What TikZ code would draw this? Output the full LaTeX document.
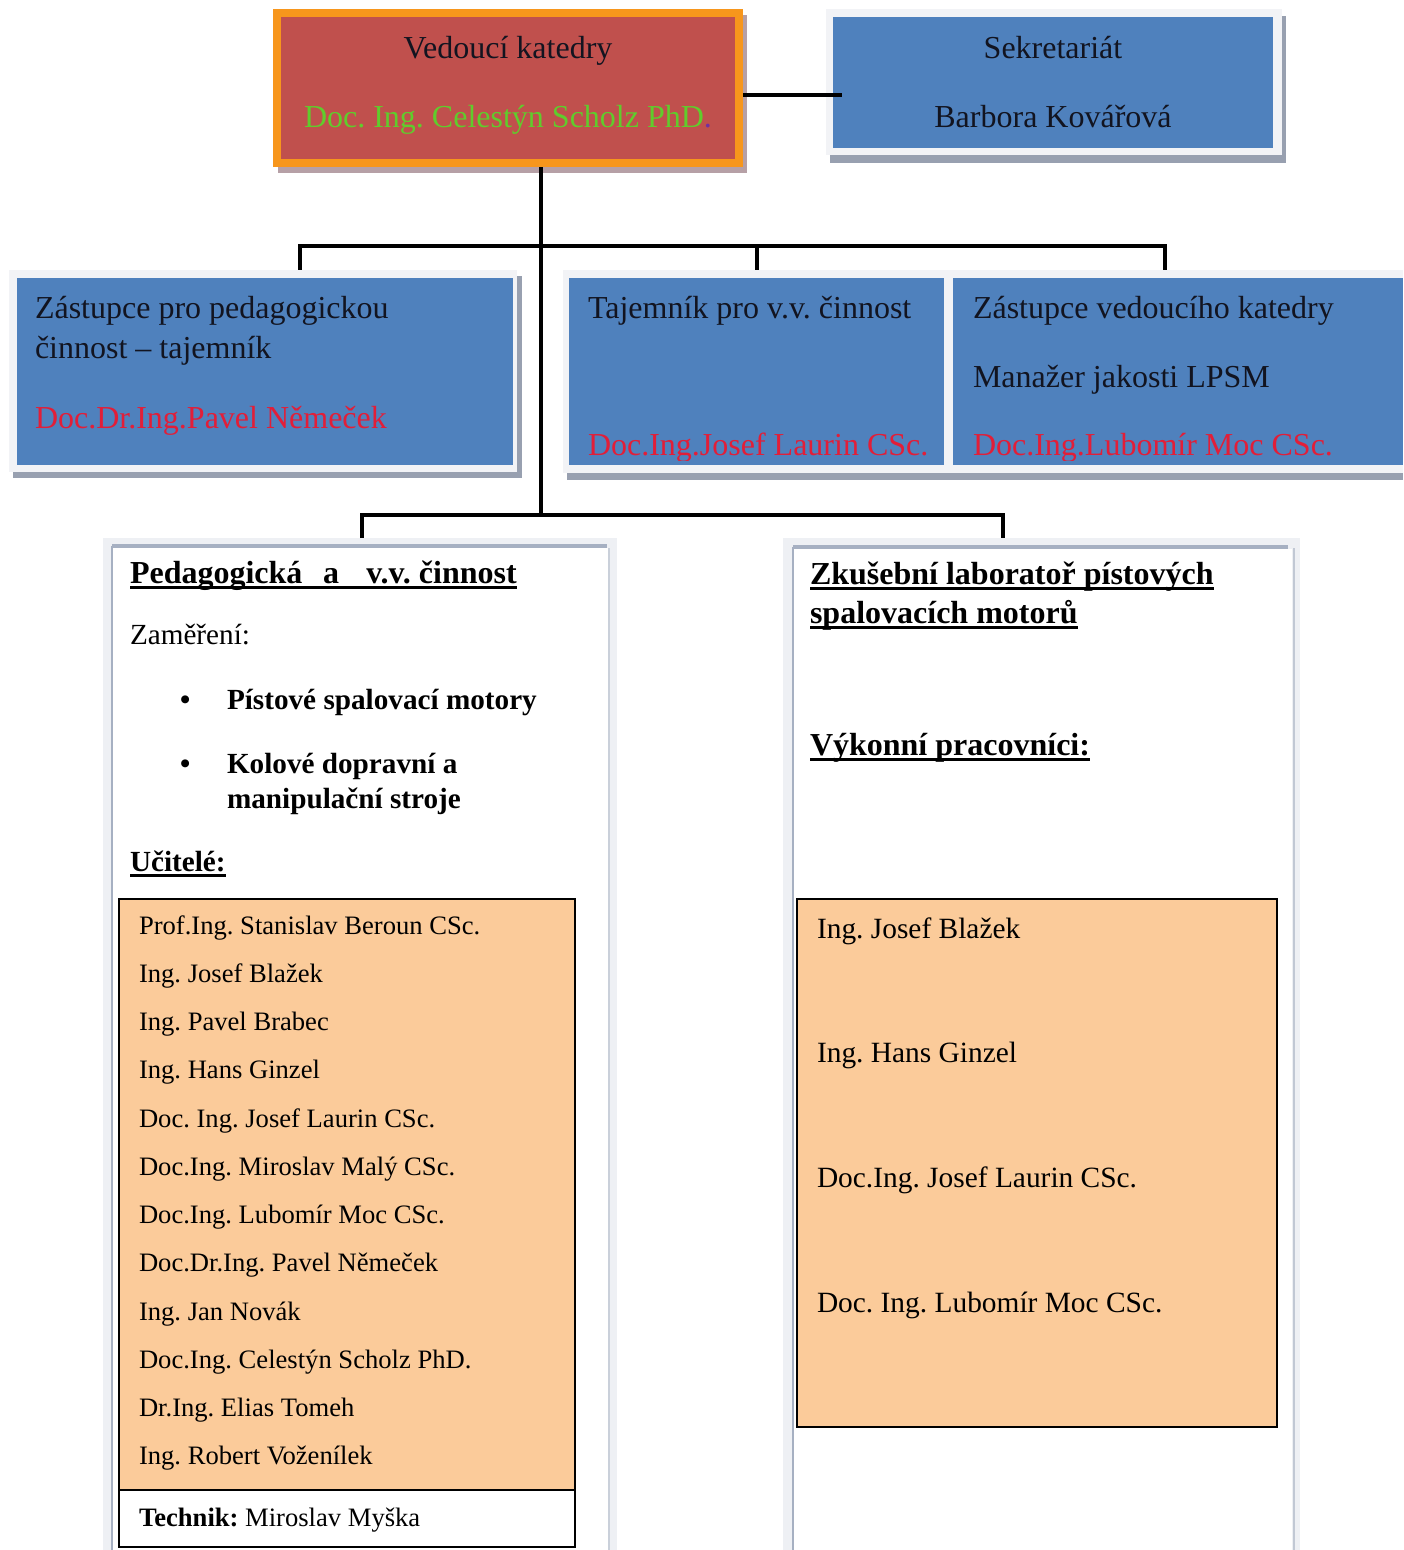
\documentclass[tikz,border=0pt]{standalone}
\usepackage{fontspec}
\setmainfont{Liberation Serif}
\usetikzlibrary{fit}
\frenchspacing

\definecolor{headfill}{RGB}{192,80,77}
\definecolor{headrim}{RGB}{247,150,28}
\definecolor{headshade}{RGB}{182,160,166}
\definecolor{boxblue}{RGB}{79,129,189}
\definecolor{rimwhite}{RGB}{242,243,246}
\definecolor{shadegrey}{RGB}{152,160,176}
\definecolor{namegreen}{RGB}{96,204,44}
\definecolor{dotpurple}{RGB}{112,48,160}
\definecolor{namered}{RGB}{226,30,56}
\definecolor{inkdark}{RGB}{18,20,32}
\definecolor{peach}{RGB}{251,203,154}
\definecolor{panelrim}{RGB}{238,240,244}
\definecolor{panelline}{RGB}{166,176,194}

% underline drawn at a fixed depth, crossing the descenders
\newsavebox\ulbox
\newcommand\ulined[1]{\sbox\ulbox{#1}\rlap{\vrule width \wd\ulbox height -1.7pt depth 3.2pt}\usebox\ulbox}

\begin{document}
\begin{tikzpicture}[x=0.5pt,y=-0.5pt,
  conn/.style={draw=black,line width=2.4pt},
  frame/.style={inner sep=0pt,outer sep=0pt},
  lbl/.style={inner sep=0pt,outer sep=0pt,anchor=base west,text=inkdark},
  clbl/.style={inner sep=0pt,outer sep=0pt,anchor=base,text=inkdark},
  headfont/.style={font=\fontsize{16pt}{19pt}\selectfont},
  titlefont/.style={font=\fontsize{16pt}{19pt}\selectfont\bfseries,text=black},
  boldfont/.style={font=\fontsize{14.6pt}{17pt}\selectfont\bfseries,text=black},
  midfont/.style={font=\fontsize{14.6pt}{17pt}\selectfont,text=black},
  namefont/.style={font=\fontsize{13.3pt}{16pt}\selectfont,text=black},
  listbox/.style={frame,fill=peach,draw=black,line width=1pt}
]
\useasboundingbox[fill=white] (0,0) rectangle (1403,1550);

% ---------- head of department ----------
\fill[headshade] (278,15) rectangle (747,173);
\node[frame,outer sep=2pt,fit={(277,13)(739,163)},fill=headfill,draw=headrim,line width=4pt] (head) {};
\node[clbl,headfont] (headrole) at (508,59) {Vedoucí katedry};
\node[clbl,headfont,text=namegreen] (headname) at (508,128) {Doc. Ing. Celestýn Scholz PhD\textcolor{dotpurple}{.}};

% ---------- secretariat ----------
\fill[shadegrey] (830,16) rectangle (1286,163);
\node[frame,fit={(826,9)(1282,155)},fill=rimwhite] (sekr) {};
\fill[boxblue] (833,17) rectangle (1273,148);
\node[clbl,headfont] (sekrrole) at (1053,59) {Sekretariát};
\node[clbl,headfont] (sekrname) at (1053,128) {Barbora Kovářová};

% ---------- deputy for teaching ----------
\fill[shadegrey] (13,276) rectangle (522,478);
\node[frame,fit={(9,270)(517,472)},fill=rimwhite] (zast) {};
\fill[boxblue] (17,278) rectangle (513,465);
\node[lbl,headfont] (zastrole1) at (35,319) {Zástupce pro pedagogickou};
\node[lbl,headfont] (zastrole2) at (35,359) {činnost – tajemník};
\node[lbl,headfont,text=namered] (zastname) at (35,429) {Doc.Dr.Ing.Pavel Němeček};

% ---------- research secretary and deputy head ----------
\fill[shadegrey] (567,276) rectangle (1403,480);
\node[frame,fit={(563,270)(1403,473)},fill=rimwhite] (mid) {};
\node[frame,fit={(569,278)(944,465)},fill=boxblue] (taj) {};
\node[frame,fit={(953,278)(1403,465)},fill=boxblue] (zvk) {};
\node[lbl,headfont] (tajrole) at (588,319) {Tajemník pro v.v. činnost};
\node[lbl,headfont] (zvkrole1) at (973,319) {Zástupce vedoucího katedry};
\node[lbl,headfont] (zvkrole2) at (973,388) {Manažer jakosti LPSM};
\begin{scope}
  \clip (569,278) rectangle (1403,461);
  \node[lbl,headfont,text=namered] (tajname) at (588,456) {Doc.Ing.Josef Laurin CSc.};
  \node[lbl,headfont,text=namered] (zvkname) at (973,456) {Doc.Ing.Lubomír Moc CSc.};
\end{scope}

% ---------- teaching and research panel ----------
\node[frame,fit={(103,538)(617,1550)},fill=panelrim] (ped) {};
\fill[white] (112,548) rectangle (608,1550);
\draw[panelline,line width=2pt] (112,546) -- (607,546);
\draw[panelline,line width=1pt] (112,546) -- (112,1550);
\draw[panelline!60,line width=1pt] (609,548) -- (609,1550);

\node[lbl,titlefont] (pedtitle) at (130,583) {\ulined{Pedagogická\hspace{0.65em}a\hspace{0.85em}v.v. činnost}};
\node[lbl,midfont] (pedfocus) at (130,644) {Zaměření:};
\node[lbl,boldfont] (bul1) at (180,709) {•};
\node[lbl,boldfont] (focus1) at (227,709) {Pístové spalovací motory};
\node[lbl,boldfont] (bul2) at (180,773) {•};
\node[lbl,boldfont] (focus2a) at (227,773) {Kolové dopravní a};
\node[lbl,boldfont] (focus2b) at (227,808) {manipulační stroje};
\node[lbl,boldfont] (teachhead) at (130,871) {\ulined{Učitelé:}};

\node[listbox,fit={(119,899)(575,1490)}] (teach) {};
\foreach \who [count=\i from 0] in {%
  Prof.Ing. Stanislav Beroun CSc.,
  Ing. Josef Blažek,
  Ing. Pavel Brabec,
  Ing. Hans Ginzel,
  Doc. Ing. Josef Laurin CSc.,
  Doc.Ing. Miroslav Malý CSc.,
  Doc.Ing. Lubomír Moc CSc.,
  Doc.Dr.Ing. Pavel Němeček,
  Ing. Jan Novák,
  Doc.Ing. Celestýn Scholz PhD.,
  Dr.Ing. Elias Tomeh,
  Ing. Robert Voženílek}
  \node[lbl,namefont] (teacher\i) at (139,934+48.25*\i) {\who};
\node[listbox,fill=white,fit={(119,1490)(575,1547)}] (tech) {};
\node[lbl,namefont] (techname) at (139,1526) {\textbf{Technik:} Miroslav Myška};

% ---------- engine test laboratory panel ----------
\node[frame,fit={(783,538)(1300,1550)},fill=panelrim] (lab) {};
\fill[white] (793,549) rectangle (1292,1550);
\draw[panelline,line width=2pt] (793,547) -- (1288,547);
\draw[panelline,line width=1pt] (793,547) -- (793,1550);
\draw[panelline!70,line width=1pt] (1294,548) -- (1294,1550);

\node[lbl,titlefont] (labtitle1) at (810,584) {\ulined{Zkušební laboratoř pístových}};
\node[lbl,titlefont] (labtitle2) at (810,623) {\ulined{spalovacích motorů}};
\node[lbl,titlefont] (labstaff) at (810,755) {\ulined{Výkonní pracovníci:}};

\node[listbox,fit={(797,899)(1277,1427)}] (work) {};
\foreach \who [count=\i from 0] in {%
  Ing. Josef Blažek,
  Ing. Hans Ginzel,
  Doc.Ing. Josef Laurin CSc.,
  Doc. Ing. Lubomír Moc CSc.}
  \node[lbl,font=\fontsize{14.7pt}{17pt}\selectfont,text=black] (worker\i) at (817,938+124.7*\i) {\who};

% ---------- connectors ----------
\coordinate (hx) at ([yshift=-3.5pt]head.east);
\coordinate (sx) at ([xshift=8pt]sekr.west);
\draw[conn] (hx) -- (hx -| sx);

\coordinate (trunk) at ([xshift=16.5pt]head.south);
\coordinate (d1) at (300,246);
\coordinate (d2) at (757,246);
\coordinate (d3) at (1165,246);
\coordinate (e1) at (362,515);
\coordinate (e2) at (1003,515);

\draw[conn] (trunk) -- (trunk |- e1);
\draw[conn] (d1 |- zast.north) -- (d1) -- (d3) -- (d3 |- mid.north);
\draw[conn] (d2) -- (d2 |- mid.north);
\draw[conn] (e1 |- ped.north) -- (e1) -- (e2) -- (e2 |- lab.north);
\end{tikzpicture}
\end{document}
